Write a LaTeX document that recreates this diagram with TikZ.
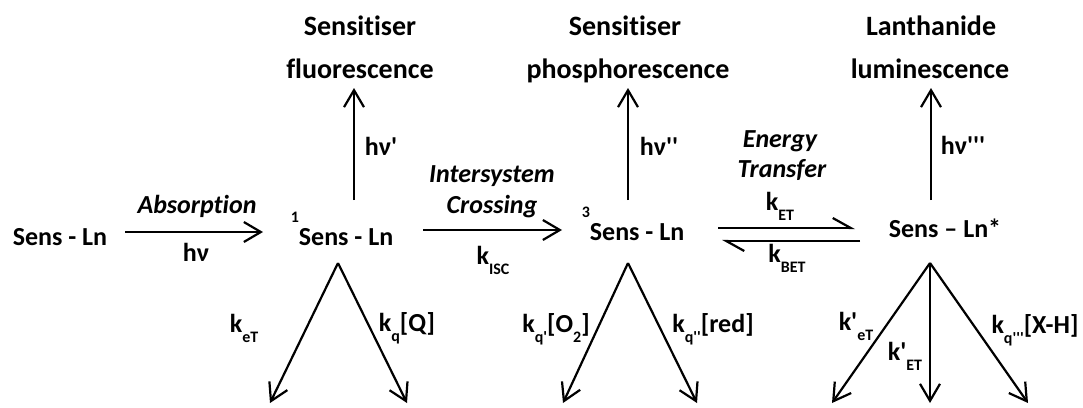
\documentclass[tikz,border=0pt]{standalone}
\usepackage{fontspec}
\setmainfont{Carlito}[Ligatures={TeXOff,NoCommon}]
\usetikzlibrary{arrows.meta}
\newcommand{\sbs}[1]{\raisebox{-10pt}{\fontsize{16}{16}\selectfont #1}}
\newcommand{\sps}[1]{\raisebox{23pt}{\fontsize{16}{16}\selectfont #1}}
\newcommand{\Sensi}{Sensit\kern0pt iser}
\begin{document}
\begin{tikzpicture}[x=1pt,y=1pt,
  lbl/.style={font=\fontsize{26}{30}\selectfont\bfseries, inner sep=0pt, anchor=base},
  ttl/.style={font=\fontsize{28}{32}\selectfont\bfseries, inner sep=0pt, anchor=base},
  proc/.style={font=\fontsize{26}{30}\selectfont\bfseries\itshape, inner sep=0pt, anchor=base},
  arr/.style={line width=2.2pt, -{Straight Barb[length=17pt,width=20pt]}},
  harp/.style={line width=2.2pt, -{Straight Barb[left,length=18pt,width=20pt]}},
]
\useasboundingbox (0,0) rectangle (1083,-407);

% species
\node[lbl] (S0) at (60,-245) {Sens - Ln};
\node[lbl] (S1) at (342,-245) {\sps{1}Sens - Ln};
\node[lbl] (S3) at (633,-240) {\sps{3}Sens - Ln};
\node[lbl] (S4) at (945,-237) {Sens – Ln*};

% titles
\node[ttl] (T1a) at (360,-35) {\Sensi};
\node[ttl] (T1b) at (360,-78) {fluorescence};
\node[ttl] (T2a) at (625,-35) {\Sensi};
\node[ttl] (T2b) at (628,-78) {phosphorescence};
\node[ttl] (T3a) at (931,-35) {Lanthanide};
\node[ttl] (T3b) at (930,-78) {luminescence};

% process labels
\node[proc] (pAbs) at (197,-213) {Absorption};
\node[lbl] (hv0) at (196,-261) {hν};
\node[proc] (pIS1) at (492,-182) {Intersystem};
\node[proc] (pIS2) at (492,-213) {Crossing};
\node[lbl] (kISC) at (493,-264) {k\sbs{ISC}};
\node[proc] (pET1) at (780,-147) {Energy};
\node[proc] (pET2) at (782,-177) {Transfer};
\node[lbl] (kET) at (780,-210) {k\sbs{ET}};
\node[lbl] (kBET) at (787,-262) {k\sbs{BET}};

\node[lbl] (hv1) at (381,-155) {hν'};
\node[lbl] (hv2) at (659,-155) {hν''};
\node[lbl] (hv3) at (963,-154) {hν'''};

% decay labels
\node[lbl] (l1) at (244,-332) {k\sbs{eT}};
\node[lbl] (l2) at (407,-331) {k\sbs{q}[Q]};
\node[lbl] (l3) at (556,-332) {k\sbs{q'}[O\sbs{2}]};
\node[lbl] (l4) at (713,-332) {k\sbs{q''}[red]};
\node[lbl] (l5) at (856,-330) {k'\sbs{eT}};
\node[lbl] (l6) at (905,-360) {k'\sbs{ET}};
\node[lbl] (l7) at (1035,-333) {k\sbs{q'''}[X-H]};

% connector end points
\coordinate (a0s) at (125,-232);  \coordinate (a0e) at (263,-232);
\coordinate (a1s) at (423,-230);  \coordinate (a1e) at (562,-230);
\coordinate (h1s) at (718,-228);  \coordinate (h1e) at (855,-228);
\coordinate (h2s) at (860,-241);  \coordinate (h2e) at (722,-241);
\coordinate (v1s) at (354,-200);  \coordinate (v1e) at (354,-88);
\coordinate (v2s) at (628,-200);  \coordinate (v2e) at (628,-88);
\coordinate (v3s) at (931,-200);  \coordinate (v3e) at (931,-88);
\coordinate (A1) at (338,-263); \coordinate (A1l) at (270,-403); \coordinate (A1r) at (407,-403);
\coordinate (A2) at (628,-263); \coordinate (A2l) at (563,-403); \coordinate (A2r) at (697,-403);
\coordinate (A3) at (930,-263); \coordinate (A3l) at (832,-403); \coordinate (A3m) at (930,-403); \coordinate (A3r) at (1028,-403);

\draw[arr] (a0s) -- (a0e);
\draw[arr] (a1s) -- (a1e);
\draw[harp] (h1s) -- (h1e);
\draw[harp] (h2s) -- (h2e);
\draw[arr] (v1s) -- (v1e);
\draw[arr] (v2s) -- (v2e);
\draw[arr] (v3s) -- (v3e);
\draw[arr] (A1) -- (A1l);
\draw[arr] (A1) -- (A1r);
\draw[arr] (A2) -- (A2l);
\draw[arr] (A2) -- (A2r);
\draw[arr] (A3) -- (A3l);
\draw[arr] (A3) -- (A3m);
\draw[arr] (A3) -- (A3r);
\end{tikzpicture}
\end{document}
